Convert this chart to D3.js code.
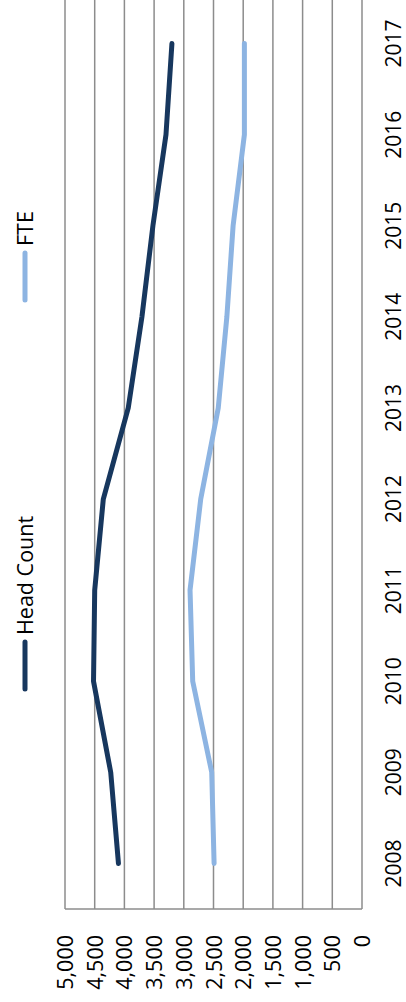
<!DOCTYPE html>
<html>
<head>
<meta charset="utf-8">
<script src="https://cdn.jsdelivr.net/npm/d3@7"></script>
<style>
	html, body {margin: 0; padding: 0; background: #fff;}
	svg {display: block;}
	text {font-family: "Open Sans", "Liberation Sans", sans-serif; fill: #000;}
</style>
</head>
<body>
<div id="chart"></div>
<script>
(function() {
	'use strict';

	var years = [2008, 2009, 2010, 2011, 2012, 2013, 2014, 2015, 2016, 2017];
	var headCount = [4100, 4230, 4520, 4500, 4355, 3935, 3705, 3520, 3300, 3200];
	var fte = [2490, 2530, 2850, 2895, 2715, 2420, 2275, 2170, 1980, 1980];
	var valueTicks = [0, 500, 1000, 1500, 2000, 2500, 3000, 3500, 4000, 4500, 5000];
	var seriesNames = ['Head Count', 'FTE'];
	var seriesColors = ['#17375E', '#8DB4E2'];

	var width = 406, height = 1002;
	var svg = d3.select('#chart').append('svg')
		.attr('width', width)
		.attr('height', height);

	// chart is turned on its side: values run right-to-left, years bottom-to-top
	var x = d3.scaleLinear().domain([0, 5000]).range([362, 65]);
	var y = d3.scaleBand().domain(years).range([909, -2]);
	var yMid = function(d) {return y(d) + y.bandwidth() / 2;};

	var grid = svg.append('g');
	grid.selectAll('line').data(valueTicks)
		.enter().append('line')
		.attr('x1', function(d) {return x(d);})
		.attr('x2', function(d) {return x(d);})
		.attr('y1', -2)
		.attr('y2', 909)
		.attr('stroke', '#8c8c8c')
		.attr('stroke-width', 1.5);

	grid.append('line')
		.attr('x1', x(5000)).attr('x2', x(0))
		.attr('y1', 909).attr('y2', 909)
		.attr('stroke', '#8c8c8c')
		.attr('stroke-width', 1.5);

	svg.append('g').selectAll('text').data(valueTicks)
		.enter().append('text')
		.attr('transform', function(d) {
			return 'translate(' + (x(d) + 8) + ',935) rotate(-90)';})
		.attr('text-anchor', 'end')
		.style('font-size', '21.5px')
		.text(d3.format(','));

	svg.append('g').selectAll('text').data(years)
		.enter().append('text')
		.attr('transform', function(d) {
			return 'translate(401,' + yMid(d) + ') rotate(-90)';})
		.attr('text-anchor', 'middle')
		.style('font-size', '21px')
		.text(function(d) {return d;});

	var line = d3.line()
		.x(function(d) {return x(d.v);})
		.y(function(d) {return yMid(d.year);});

	var series = [headCount, fte].map(function(vals, i) {
		return {
			name: seriesNames[i],
			color: seriesColors[i],
			points: years.map(function(yr, j) {return {year: yr, v: vals[j]};})};});

	svg.append('g').selectAll('path').data(series)
		.enter().append('path')
		.attr('d', function(s) {return line(s.points);})
		.attr('fill', 'none')
		.attr('stroke', function(s) {return s.color;})
		.attr('stroke-width', 5)
		.attr('stroke-linejoin', 'round')
		.attr('stroke-linecap', 'round');

	// legend
	var legendY = [689, 300];
	var legend = svg.append('g').selectAll('g').data(series)
		.enter().append('g')
		.attr('transform', function(s, i) {
			return 'translate(25,' + legendY[i] + ')';});
	legend.append('line')
		.attr('x1', 0).attr('x2', 0)
		.attr('y1', 0).attr('y2', -47)
		.attr('stroke', function(s) {return s.color;})
		.attr('stroke-width', 5)
		.attr('stroke-linecap', 'round');
	legend.append('text')
		.attr('transform', 'translate(8,-54) rotate(-90)')
		.style('font-size', '21.5px')
		.text(function(s) {return s.name;});
})();
</script>
</body>
</html>
